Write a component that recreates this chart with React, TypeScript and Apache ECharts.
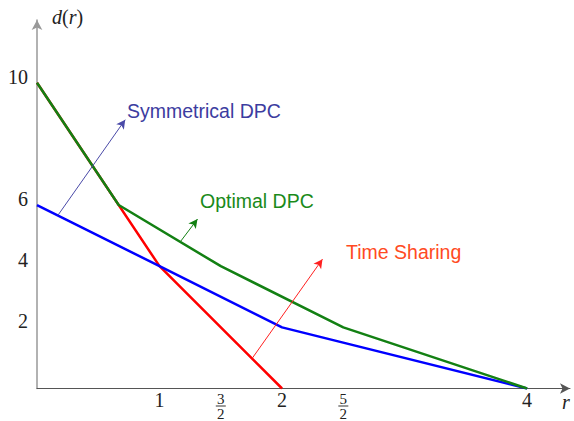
import React, { useEffect, useRef } from "react";
import * as echarts from "echarts";

const timeSharing: [number, number][] = [[0, 10], [1, 4], [2, 0]];
const symmetricalDPC: [number, number][] = [[0, 6], [1, 4], [2, 2], [4, 0]];
const optimalDPC: [number, number][] = [[0, 10], [2 / 3, 6], [1.5, 4], [2.5, 2], [4, 0]];

const xTicks = [1, 1.5, 2, 2.5, 4];
const yTicks = [2, 4, 6, 10];

const arrowSym: [[number, number], [number, number]] = [[0.17, 5.66], [0.72, 8.79]];
const arrowOpt: [[number, number], [number, number]] = [[1.17, 4.8], [1.31, 5.54]];
const arrowTS: [[number, number], [number, number]] = [[1.755, 0.98], [2.33, 4.23]];

const serif = "'Liberation Serif', 'DejaVu Serif', serif";
const sans = "'Liberation Sans', Arial, sans-serif";

const fracLabel = (v: number) => {
  if (v === 1.5) return "{n|3}\n{b| }\n{n|2}";
  if (v === 2.5) return "{n|5}\n{b| }\n{n|2}";
  return "{w|" + v + "}";
};

function arrow(pts: [[number, number], [number, number]], color: string) {
  return {
    type: "line",
    data: [],
    silent: true,
    markLine: {
      silent: true,
      symbol: ["none", "arrow"],
      symbolSize: [7, 9],
      label: { show: false },
      lineStyle: { color, width: 1, type: "solid" },
      data: [[{ coord: pts[0] }, { coord: pts[1] }]],
    },
  };
}

export default function App() {
  const ref = useRef<HTMLDivElement>(null);
  useEffect(() => {
    if (!ref.current) return;
    const chart = echarts.init(ref.current, null, { renderer: "svg" });
    chart.setOption({
      animation: false,
      backgroundColor: "#fff",
      grid: { left: 37, top: 20, right: 4, bottom: 31 },
      xAxis: {
        type: "value",
        min: 0,
        max: 4.35,
        splitLine: { show: false },
        axisTick: { show: false },
        axisLine: {
          show: true,
          symbol: ["none", "arrow"],
          symbolSize: [8, 10],
          lineStyle: { color: "#555", width: 1 },
        },
        axisLabel: {
          customValues: xTicks,
          margin: 4,
          formatter: fracLabel,
          rich: {
            w: { fontFamily: serif, fontSize: 20, color: "#222", lineHeight: 14 },
            n: { fontFamily: serif, fontSize: 15, color: "#222", lineHeight: 12, align: "center" },
            b: { width: 10, height: 1, backgroundColor: "#333", fontSize: 1, lineHeight: 3, align: "center" },
          },
        },
      },
      yAxis: {
        type: "value",
        min: 0,
        max: 12.05,
        splitLine: { show: false },
        axisTick: { show: false },
        axisLine: {
          show: true,
          symbol: ["none", "arrow"],
          symbolSize: [8, 10],
          lineStyle: { color: "#999", width: 1.5 },
        },
        axisLabel: {
          customValues: yTicks,
          margin: 9,
          fontFamily: serif,
          fontSize: 20,
          color: "#222",
          verticalAlign: "bottom",
          lineHeight: 12,
        },
      },
      graphic: [
        {
          type: "text",
          x: 52,
          y: 7,
          style: {
            text: "{i|d}({i|r})",
            rich: {
              i: { fontFamily: serif, fontStyle: "italic", fontSize: 20, fill: "#222" },
            },
            fontFamily: serif,
            fontSize: 20,
            fill: "#222",
          },
        },
        {
          type: "text",
          x: 562,
          y: 392,
          style: { text: "r", fontFamily: serif, fontStyle: "italic", fontSize: 20, fill: "#222" },
        },
        {
          type: "text",
          x: 127,
          y: 101,
          style: { text: "Symmetrical DPC", fontFamily: sans, fontSize: 19.5, fill: "#3c3ca0" },
        },
        {
          type: "text",
          x: 200,
          y: 191,
          style: { text: "Optimal DPC", fontFamily: sans, fontSize: 19.5, fill: "#1a8a1a" },
        },
        {
          type: "text",
          x: 346,
          y: 242,
          style: { text: "Time Sharing", fontFamily: sans, fontSize: 19.5, fill: "#ff4a22" },
        },
      ],
      series: [
        {
          type: "line",
          name: "Time Sharing",
          data: timeSharing,
          showSymbol: false,
          lineStyle: { color: "#ff0000", width: 2.5 },
        },
        {
          type: "line",
          name: "Symmetrical DPC",
          data: symmetricalDPC,
          showSymbol: false,
          lineStyle: { color: "#0000ff", width: 2.5 },
        },
        {
          type: "line",
          name: "Optimal DPC",
          data: optimalDPC,
          showSymbol: false,
          lineStyle: { color: "#138013", width: 2.5 },
        },
        arrow(arrowSym, "#4a4aa8"),
        arrow(arrowOpt, "#138013"),
        arrow(arrowTS, "#ff2020"),
      ],
    });
    return () => chart.dispose();
  }, []);
  return (
    <div
      ref={ref}
      style={{ position: "absolute", left: 0, top: 0, width: 574, height: 421 }}
    />
  );
}
